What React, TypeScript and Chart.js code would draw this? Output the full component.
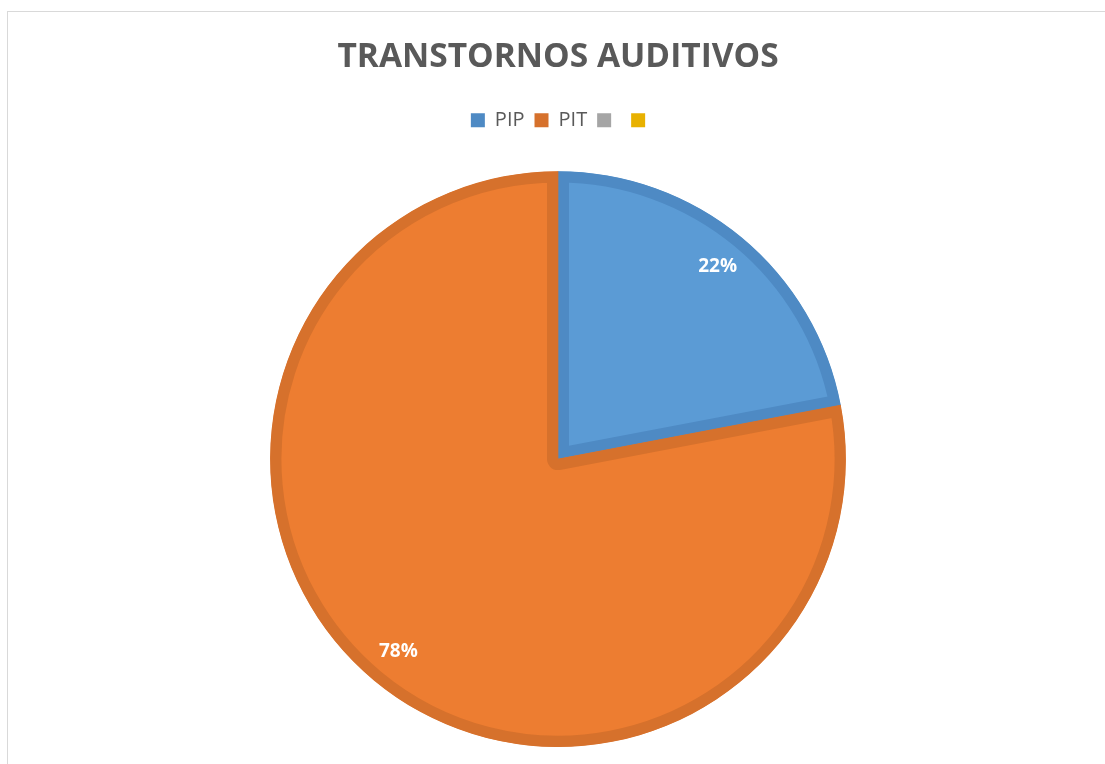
import React, { useEffect, useRef } from "react";
import { Chart, registerables } from "chart.js";

Chart.register(...registerables);

const chartTitle = "TRANSTORNOS AUDITIVOS";
const categories = ["PIP", "PIT", "", ""];
const values = [22, 78, 0, 0];
const fillColors = ["#5B9BD5", "#ED7D31", "#A5A5A5", "#FFC000"];
const edgeColors = ["#4E8AC4", "#D6712C", "#A5A5A5", "#FFC000"];
const edgeWidths = [11, 11, 0, 0];
const legendSwatch = ["#4E8AC4", "#D6712C", "#A5A5A5", "#E8B100"];

const pctLabels = {
  id: "pctLabels",
  afterDatasetsDraw(chart: any) {
    const meta = chart.getDatasetMeta(0);
    const data = chart.data.datasets[0].data as number[];
    const total = data.reduce((a, b) => a + b, 0);
    const ctx = chart.ctx;
    ctx.save();
    ctx.fillStyle = "#FFFFFF";
    ctx.font = "bold 19px 'Open Sans'";
    ctx.textAlign = "center";
    ctx.textBaseline = "middle";
    meta.data.forEach((arc: any, i: number) => {
      if (!data[i]) return;
      const { x, y, startAngle, endAngle, outerRadius } = arc.getProps(
        ["x", "y", "startAngle", "endAngle", "outerRadius"],
        true
      );
      const mid = (startAngle + endAngle) / 2;
      const r = outerRadius * 0.87;
      ctx.fillText(
        Math.round((data[i] / total) * 100) + "%",
        x + Math.cos(mid) * r,
        y + Math.sin(mid) * r
      );
    });
    ctx.restore();
  },
};

const legendGap = {
  id: "legendGap",
  beforeInit(chart: any) {
    const legend = chart.legend;
    const origFit = legend.fit;
    legend.fit = function () {
      origFit.call(this);
      this.height += 29;
    };
    const origDraw = legend.draw;
    legend.draw = function () {
      const ctx = this.ctx;
      ctx.save();
      ctx.translate(5, -2);
      origDraw.call(this);
      ctx.restore();
    };
  },
};

export default function App() {
  const ref = useRef<HTMLCanvasElement>(null);
  useEffect(() => {
    const chart = new Chart(ref.current!, {
      type: "pie",
      data: {
        labels: categories,
        datasets: [
          {
            data: values,
            backgroundColor: fillColors,
            borderColor: edgeColors,
            borderWidth: edgeWidths,
            borderAlign: "inner",
          } as any,
        ],
      },
      options: {
        animation: false,
        responsive: false,
        maintainAspectRatio: false,
        layout: { padding: { top: 0, bottom: 0, left: 0, right: 0 } },
        plugins: {
          title: {
            display: true,
            text: chartTitle,
            color: "#595959",
            font: { family: "'Open Sans'", size: 33.5, weight: "bold" },
            padding: { top: 25, bottom: 25 },
          },
          legend: {
            display: true,
            position: "top",
            labels: {
              boxWidth: 14,
              boxHeight: 14,
              color: "#595959",
              font: { family: "'Open Sans'", size: 20 },
              padding: 10,
              generateLabels: (chart: any) =>
                chart.data.labels.map((t: string, i: number) => ({
                  text: t,
                  fillStyle: legendSwatch[i],
                  strokeStyle: legendSwatch[i],
                  lineWidth: 0,
                  fontColor: "#595959",
                  hidden: false,
                  index: i,
                })),
            },
          },
          tooltip: { enabled: false },
        },
      },
      plugins: [pctLabels, legendGap],
    });
    return () => chart.destroy();
  }, []);
  return (
    <div
      style={{
        position: "fixed",
        left: 0,
        top: 0,
        width: 1105,
        height: 764,
        background: "#FFFFFF",
        overflow: "hidden",
      }}
    >
      <div
        style={{
          position: "absolute",
          left: 7,
          top: 11,
          width: 1200,
          height: 900,
          borderLeft: "1px solid #D9D9D9",
          borderTop: "1px solid #D9D9D9",
        }}
      />
      <canvas
        ref={ref}
        width={1100}
        height={735}
        style={{ position: "absolute", left: 8, top: 12, width: 1100, height: 735 }}
      />
    </div>
  );
}
